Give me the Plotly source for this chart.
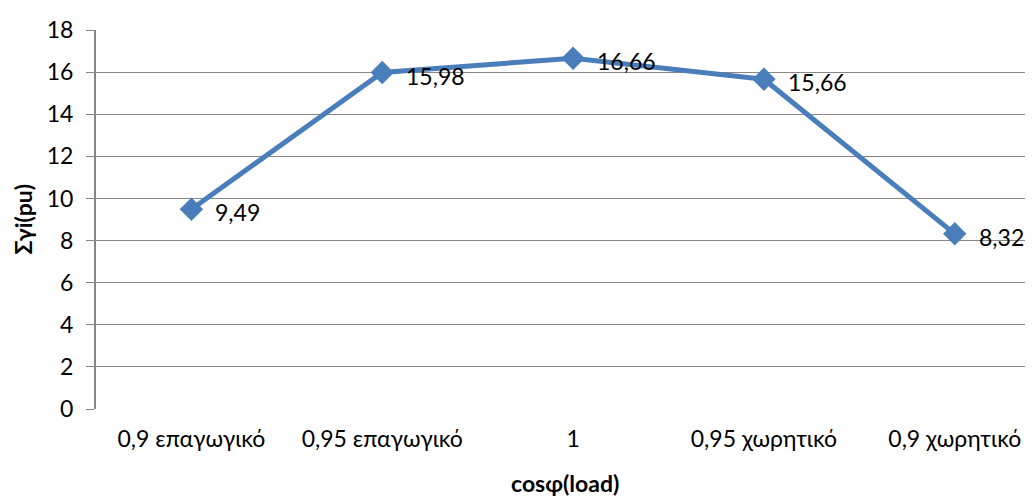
import plotly.graph_objects as go

categories = ["0,9 επαγωγικό", "0,95 επαγωγικό", "1", "0,95 χωρητικό", "0,9 χωρητικό"]
values = [9.49, 15.98, 16.66, 15.66, 8.32]
labels = ["9,49", "15,98", "16,66", "15,66", "8,32"]
y_ticks = [0, 2, 4, 6, 8, 10, 12, 14, 16, 18]

FONT = "Lato, Open Sans, sans-serif"
FS = 23
BLUE = "#4A7EBB"

xs = list(range(len(categories)))

fig = go.Figure()
fig.add_trace(go.Scatter(
    x=xs, y=values,
    mode="lines+markers",
    line=dict(color=BLUE, width=5),
    marker=dict(symbol="diamond", size=18, color=BLUE),
    cliponaxis=False,
    showlegend=False,
))

ann = [dict(x=x, y=v, xref="x", yref="y", text=t, showarrow=False,
            xanchor="left", yanchor="middle", xshift=22, yshift=-3,
            font=dict(family=FONT, size=FS, color="black"))
       for x, v, t in zip(xs, values, labels)]

ann += [
    dict(text="<b>cosφ(load)</b>", xref="paper", yref="paper", x=0.5, y=0,
         xanchor="center", yanchor="middle", yshift=-74, showarrow=False,
         font=dict(size=FS)),
    dict(text="<b>Σγi(pu)</b>", xref="paper", yref="paper", x=0, y=0.5,
         xanchor="center", yanchor="middle", xshift=-74, showarrow=False,
         textangle=-90, font=dict(size=FS)),
]

fig.update_layout(
    width=1025, height=488,
    margin=dict(l=88, r=0, t=22, b=87),
    plot_bgcolor="white", paper_bgcolor="white",
    font=dict(family=FONT, size=FS, color="black"),
    xaxis=dict(
        range=[-0.5, 4.41], automargin=False,
        tickmode="array", tickvals=xs, ticktext=categories,
        showgrid=False, zeroline=False, showline=False,
        ticks="", ticklabelstandoff=14,
        tickfont=dict(size=FS),
    ),
    yaxis=dict(
        range=[0, 18], automargin=False, tickmode="array", tickvals=y_ticks,
        showgrid=True, gridcolor="#878787", gridwidth=1,
        zeroline=False, showline=True, linecolor="#878787", linewidth=2,
        ticks="outside", ticklen=8, tickcolor="#878787", tickwidth=1,
        ticklabelstandoff=8,
        tickfont=dict(size=FS),
    ),
    annotations=ann,
)

fig.write_html("out.html")
